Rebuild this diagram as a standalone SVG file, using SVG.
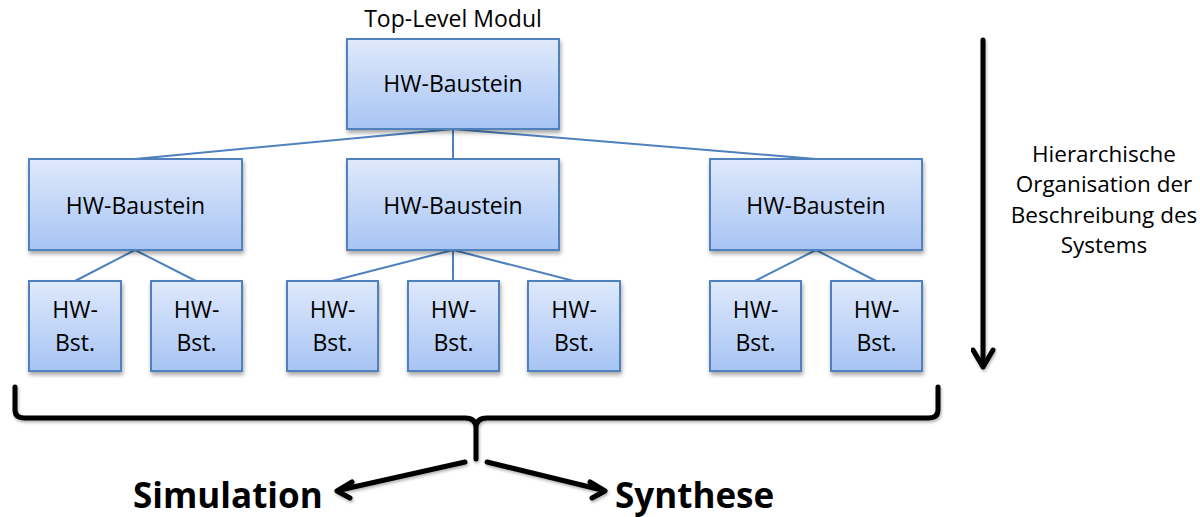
<svg xmlns="http://www.w3.org/2000/svg" width="1200" height="517" viewBox="0 0 1200 517">
<defs>
<linearGradient id="g" x1="0" y1="0" x2="0" y2="1">
<stop offset="0" stop-color="#dfe9fc"/>
<stop offset="1" stop-color="#a7c4f4"/>
</linearGradient>
<filter id="sh" x="-10%" y="-10%" width="130%" height="130%">
<feGaussianBlur in="SourceAlpha" stdDeviation="2"/>
<feOffset dx="1" dy="3" result="b"/>
<feComponentTransfer><feFuncA type="linear" slope="0.35"/></feComponentTransfer>
<feMerge><feMergeNode/><feMergeNode in="SourceGraphic"/></feMerge>
</filter>
<filter id="sh2" x="-10%" y="-10%" width="130%" height="130%">
<feGaussianBlur in="SourceAlpha" stdDeviation="1.5"/>
<feOffset dx="1" dy="2"/>
<feComponentTransfer><feFuncA type="linear" slope="0.3"/></feComponentTransfer>
<feMerge><feMergeNode/><feMergeNode in="SourceGraphic"/></feMerge>
</filter>
</defs>
<style>
.box{fill:url(#g);stroke:#4f81bd;stroke-width:2;filter:url(#sh)}
.t{font-family:"Open Sans","Liberation Sans",sans-serif;font-size:23px;fill:#000;text-anchor:middle}
.r{font-size:22.5px}
.c{stroke:#4f81bd;stroke-width:2;fill:none}
.k{stroke:#000;stroke-width:5;fill:none;stroke-linecap:round;stroke-linejoin:round}
.b{font-family:"Open Sans","Liberation Sans",sans-serif;font-weight:bold;font-size:35px;fill:#000}
</style>
<text class="t" x="453" y="27">Top-Level Modul</text>
<g id="connectors">
<line class="c" x1="453" y1="129" x2="135" y2="159"/>
<line class="c" x1="453" y1="129" x2="453" y2="159"/>
<line class="c" x1="453" y1="129" x2="816" y2="159"/>
<line class="c" x1="135" y1="250" x2="75" y2="281"/>
<line class="c" x1="135" y1="250" x2="196" y2="281"/>
<line class="c" x1="453" y1="250" x2="332" y2="281"/>
<line class="c" x1="453" y1="250" x2="453" y2="281"/>
<line class="c" x1="453" y1="250" x2="574" y2="281"/>
<line class="c" x1="816" y1="250" x2="755" y2="281"/>
<line class="c" x1="816" y1="250" x2="876" y2="281"/>
</g>
<g id="top"><rect class="box" x="347" y="39" width="212" height="90"/><text class="t" x="453" y="92">HW-Baustein</text></g>
<g id="mid1"><rect class="box" x="29" y="159" width="213" height="91"/><text class="t" x="135.5" y="214">HW-Baustein</text></g>
<g id="mid2"><rect class="box" x="347" y="159" width="212" height="91"/><text class="t" x="453" y="214">HW-Baustein</text></g>
<g id="mid3"><rect class="box" x="710" y="159" width="212" height="91"/><text class="t" x="816" y="214">HW-Baustein</text></g>
<g id="s1"><rect class="box" x="29" y="281" width="92" height="90"/><text class="t" x="75" y="318">HW-</text><text class="t" x="75" y="351">Bst.</text></g>
<g id="s2"><rect class="box" x="151" y="281" width="91" height="90"/><text class="t" x="196.5" y="318">HW-</text><text class="t" x="196.5" y="351">Bst.</text></g>
<g id="s3"><rect class="box" x="287" y="281" width="91" height="90"/><text class="t" x="332.5" y="318">HW-</text><text class="t" x="332.5" y="351">Bst.</text></g>
<g id="s4"><rect class="box" x="408" y="281" width="91" height="90"/><text class="t" x="453.5" y="318">HW-</text><text class="t" x="453.5" y="351">Bst.</text></g>
<g id="s5"><rect class="box" x="528" y="281" width="92" height="90"/><text class="t" x="574" y="318">HW-</text><text class="t" x="574" y="351">Bst.</text></g>
<g id="s6"><rect class="box" x="710" y="281" width="91" height="90"/><text class="t" x="755.5" y="318">HW-</text><text class="t" x="755.5" y="351">Bst.</text></g>
<g id="s7"><rect class="box" x="831" y="281" width="91" height="90"/><text class="t" x="876.5" y="318">HW-</text><text class="t" x="876.5" y="351">Bst.</text></g>
<g id="hier" filter="url(#sh2)">
<line class="k" x1="983" y1="40" x2="983" y2="366"/>
<polyline class="k" points="973,350 983,367 993,350"/>
</g>
<g filter="url(#sh2)">
<path class="k" d="M15,387 L15,410 Q15,418 25,418 L465,418 Q476,418 476,428 L476,459 M476,428 Q476,418 487,418 L928,418 Q938,418 938,410 L938,387"/>
<line class="k" x1="465" y1="462" x2="340" y2="490"/>
<polyline class="k" points="352,482 337,491 350,498"/>
<line class="k" x1="487" y1="462" x2="602" y2="490"/>
<polyline class="k" points="590,482 605,491 592,498"/>
</g>
<text class="t r" x="1104" y="162">Hierarchische</text>
<text class="t r" x="1104" y="192">Organisation der</text>
<text class="t r" x="1104" y="223">Beschreibung des</text>
<text class="t r" x="1104" y="253">Systems</text>
<text class="b" x="133" y="508">Simulation</text>
<text class="b" x="615" y="508">Synthese</text>
</svg>
